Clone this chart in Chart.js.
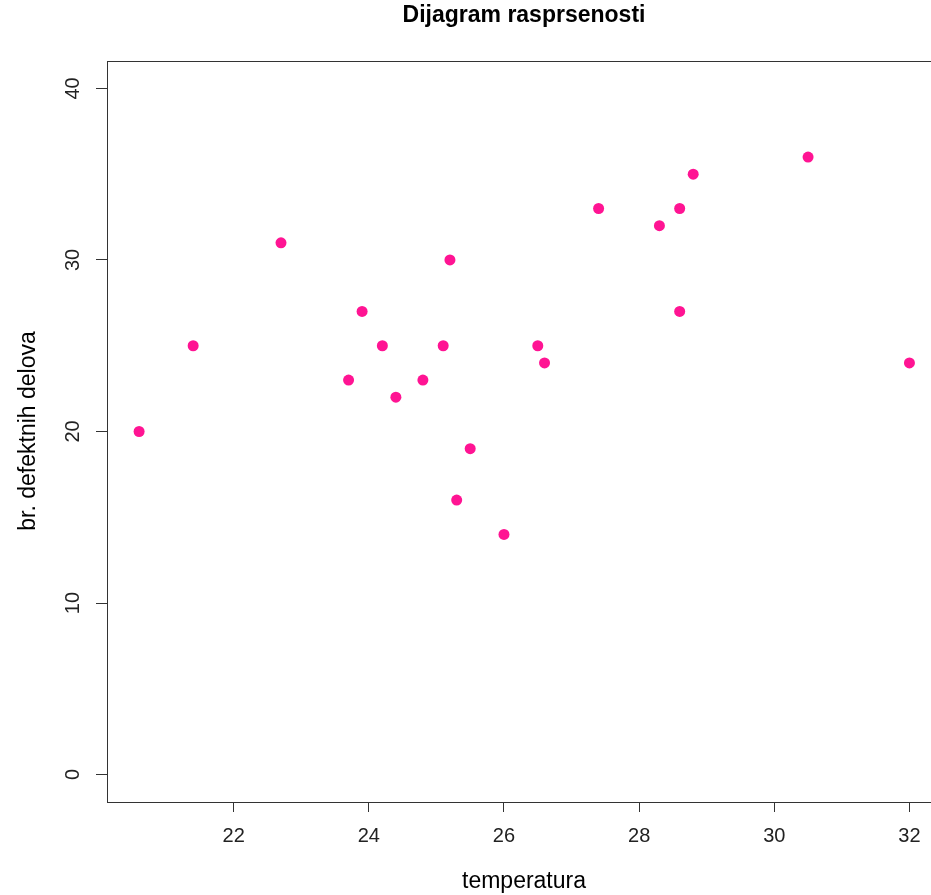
<!DOCTYPE html>
<html>
<head>
<meta charset="utf-8">
<script src="https://cdn.jsdelivr.net/npm/chart.js@4/dist/chart.umd.min.js"></script>
<style>
  html, body { margin: 0; padding: 0; background: #fff; overflow: hidden; }
  #wrap { width: 945px; height: 895px; }
</style>
</head>
<body>
<div id="wrap"><canvas id="myChart" width="945" height="895"></canvas></div>
<script>
// temperatura vs. broj defektnih delova
let temperatura = [20.6, 21.4, 22.7, 23.7, 23.9, 24.2, 24.4, 24.8, 25.1, 25.2, 25.3,
  25.5, 26.0, 26.5, 26.6, 27.4, 28.3, 28.6, 28.6, 28.8, 30.5, 32.0];
let defekti = [20, 25, 31, 23, 27, 25, 22, 23, 25, 30, 16,
  19, 14, 25, 24, 33, 32, 33, 27, 35, 36, 24];
let xTicks = [22, 24, 26, 28, 30, 32];
let yTicks = [0, 10, 20, 30, 40];

let font = "'Liberation Sans', Arial, sans-serif";

// R-like extras: box, title, axis titles, rotated y labels
const rStyle = {
  id: "rStyle",
  afterDraw(chart) {
    const ctx = chart.ctx;
    const a = chart.chartArea;
    ctx.save();
    ctx.strokeStyle = "#333";
    ctx.lineWidth = 1;
    ctx.strokeRect(Math.round(a.left) + 0.5, Math.round(a.top) + 0.5,
      Math.round(a.right - a.left), Math.round(a.bottom - a.top));

    ctx.fillStyle = "#000";
    ctx.textAlign = "center";
    ctx.textBaseline = "middle";
    ctx.font = "bold 23px " + font;
    ctx.fillText("Dijagram rasprsenosti", 524, 16);

    ctx.font = "23px " + font;
    ctx.fillText("temperatura", 524, 882);

    ctx.save();
    ctx.translate(29, 431);
    ctx.rotate(-Math.PI / 2);
    ctx.fillText("br. defektnih delova", 0, 0);
    ctx.restore();

    const y = chart.scales.y;
    ctx.font = "20px " + font;
    ctx.fillStyle = "#222";
    yTicks.forEach((v) => {
      ctx.save();
      ctx.translate(73, y.getPixelForValue(v));
      ctx.rotate(-Math.PI / 2);
      ctx.fillText(String(v), 0, 0);
      ctx.restore();
    });
    ctx.restore();
  },
};

let ctx = document.getElementById("myChart").getContext("2d");
let myChart = new Chart(ctx, {
  type: "scatter",
  data: {
    datasets: [
      {
        label: "defekti",
        data: temperatura.map((t, i) => ({ x: t, y: defekti[i] })),
        backgroundColor: "#ff1493",
        borderColor: "#ff1493",
        pointRadius: 5.5,
        pointBorderWidth: 0,
      },
    ],
  },
  options: {
    responsive: false,
    animation: false,
    layout: { padding: { left: 0, top: 61, right: 4, bottom: 0 } },
    plugins: { legend: { display: false }, tooltip: { enabled: false } },
    scales: {
      x: {
        type: "linear",
        min: 20.125,
        max: 32.445,
        afterBuildTicks: (s) => { s.ticks = xTicks.map((v) => ({ value: v })); },
        afterFit: (s) => { s.height = 93; },
        grid: { drawOnChartArea: false, drawTicks: true, tickLength: 10, color: "#333" },
        border: { display: false },
        ticks: { color: "#222", font: { family: font, size: 20 }, padding: 12, maxRotation: 0 },
      },
      y: {
        type: "linear",
        min: -1.6,
        max: 41.6,
        afterBuildTicks: (s) => { s.ticks = yTicks.map((v) => ({ value: v })); },
        afterFit: (s) => { s.width = 107; },
        grid: { drawOnChartArea: false, drawTicks: true, tickLength: 11, color: "#333" },
        border: { display: false },
        ticks: { display: false },
      },
    },
  },
  plugins: [rStyle],
});
</script>
</body>
</html>
